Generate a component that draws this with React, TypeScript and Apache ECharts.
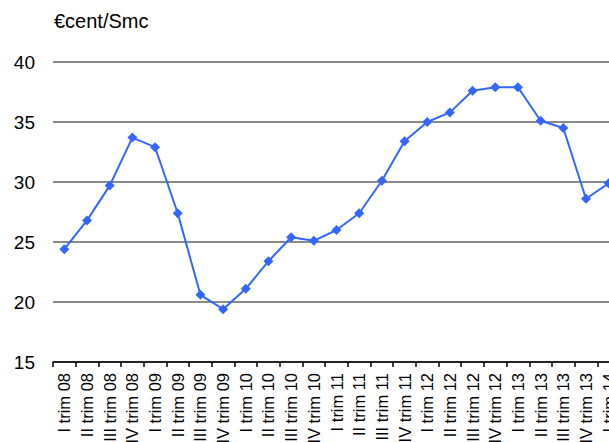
import React, { useEffect, useRef } from "react";
import * as echarts from "echarts";

const categories = [
  "I trim 08", "II trim 08", "III trim 08", "IV trim 08",
  "I trim 09", "II trim 09", "III trim 09", "IV trim 09",
  "I trim 10", "II trim 10", "III trim 10", "IV trim 10",
  "I trim 11", "II trim 11", "III trim 11", "IV trim 11",
  "I trim 12", "II trim 12", "III trim 12", "IV trim 12",
  "I trim 13", "II trim 13", "III trim 13", "IV trim 13",
  "I trim 14",
];
const prices = [
  24.4, 26.8, 29.7, 33.7, 32.9, 27.4, 20.6, 19.4,
  21.1, 23.4, 25.4, 25.1, 26.0, 27.4, 30.1, 33.4,
  35.0, 35.8, 37.6, 37.9, 37.9, 35.1, 34.5, 28.6,
  29.9,
];
const unitLabel = "€cent/Smc";

export default function App() {
  const ref = useRef<HTMLDivElement>(null);
  useEffect(() => {
    const chart = echarts.init(ref.current!, null, { renderer: "svg" });
    chart.setOption({
      animation: false,
      backgroundColor: "#ffffff",
      textStyle: { fontFamily: "Liberation Sans, Arial, sans-serif" },
      grid: {
        left: 53,
        right: -11,
        top: 62,
        bottom: 80,
        containLabel: false,
        outerBoundsMode: "none",
      },
      graphic: [
        {
          type: "text",
          left: 54,
          top: 11,
          style: {
            text: unitLabel,
            fontSize: 20,
            fill: "#000",
            fontFamily: "Liberation Sans, Arial, sans-serif",
          },
        },
      ],
      xAxis: {
        type: "category",
        data: categories,
        boundaryGap: true,
        axisLine: { lineStyle: { color: "#000", width: 1.5 } },
        axisTick: { show: true, length: 5, lineStyle: { color: "#000", width: 1.5 } },
        axisLabel: {
          rotate: 90,
          interval: 0,
          margin: 11,
          fontSize: 16.5,
          color: "#000",
          fontFamily: "Liberation Sans, Arial, sans-serif",
        },
      },
      yAxis: {
        type: "value",
        min: 15,
        max: 40,
        interval: 5,
        axisLine: { show: false },
        axisTick: { show: false },
        axisLabel: {
          margin: 18,
          fontSize: 19,
          color: "#000",
          fontFamily: "Liberation Sans, Arial, sans-serif",
        },
        splitLine: { lineStyle: { color: "#8a8a8a", width: 2 } },
      },
      series: [
        {
          type: "line",
          data: prices,
          symbol: "diamond",
          symbolSize: 10,
          lineStyle: { color: "#3366ff", width: 2 },
          itemStyle: { color: "#3366ff" },
        },
      ],
    });
    return () => chart.dispose();
  }, []);
  return <div ref={ref} style={{ width: 609, height: 442, position: "absolute", left: 0, top: 0 }} />;
}
